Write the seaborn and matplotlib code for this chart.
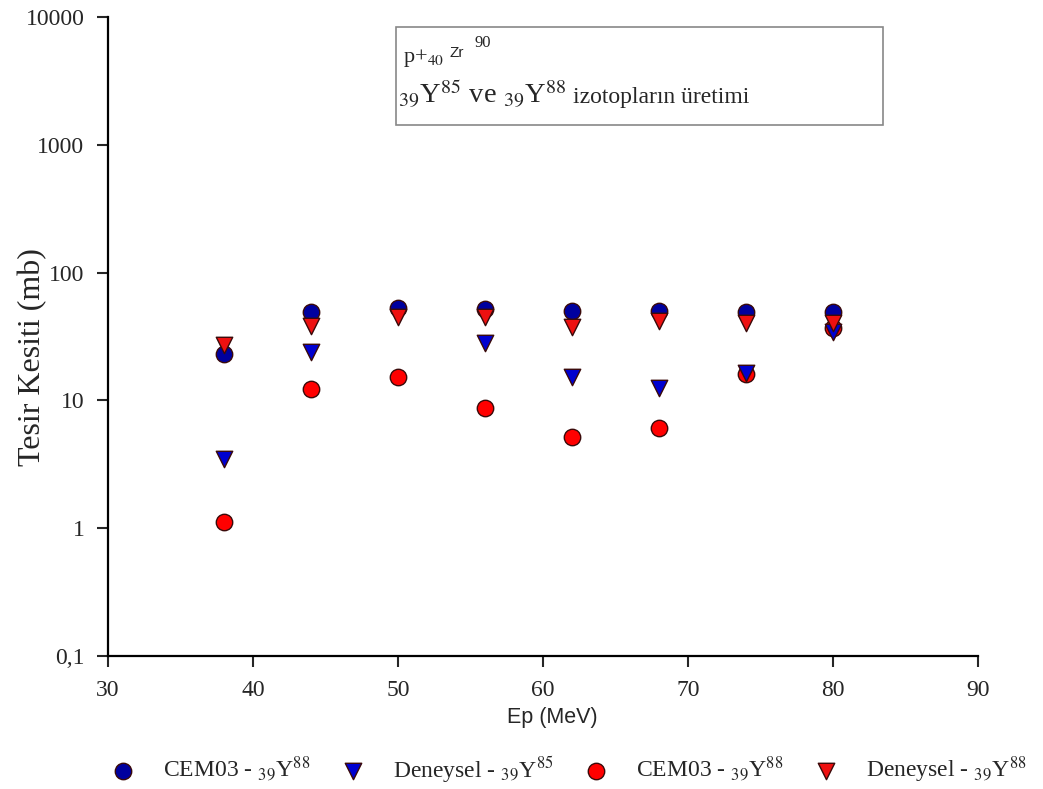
import matplotlib
matplotlib.use('Agg')
import matplotlib.pyplot as plt
import seaborn as sns
import pandas as pd
import numpy as np
from matplotlib.patches import Rectangle

# data
energy = [38, 44, 50, 56, 62, 68, 74, 80]
cem_y88_blue = [22.9, 48.7, 53.0, 51.4, 49.6, 49.6, 48.7, 48.7]
exp_y85 = [3.46, 24.1, np.nan, 27.9, 15.1, 12.6, 16.3, 34.0]
cem_y88_red = [1.11, 12.2, 15.1, 8.66, 5.14, 6.05, 16.0, 36.5]
exp_y88 = [26.9, 38.5, 44.5, 44.5, 37.2, 41.4, 40.5, 40.5]

yticks = [0.1, 1, 10, 100, 1000, 10000]
ytick_labels = ['0,1', '1', '10', '100', '1000', '10000']
xticks = [30, 40, 50, 60, 70, 80, 90]

sns.set_style('white')
plt.rcParams['font.family'] = ['Liberation Serif', 'DejaVu Serif']
plt.rcParams['mathtext.fontset'] = 'stix'

fig = plt.figure(figsize=(10.43, 7.89), dpi=100)
ax = fig.add_axes([0.1035, 0.1686, 0.834, 0.81])

series = [
    (cem_y88_blue, 'o', '#00009E', 'CEM03 - $_{39}$Y$^{88}$'),
    (cem_y88_red, 'o', '#FF0000', 'CEM03 - $_{39}$Y$^{88}$'),
    (exp_y85, 'v', '#0000D0', 'Deneysel - $_{39}$Y$^{85}$'),
    (exp_y88, 'v', '#EE1010', 'Deneysel - $_{39}$Y$^{88}$'),
]
for vals, mk, col, lab in series:
    df = pd.DataFrame({'Ep': energy, 'val': vals}).dropna()
    sns.scatterplot(data=df, x='Ep', y='val', marker=mk, color=col, s=140,
                    edgecolor='#3a0a0a', linewidth=1.0, label=lab, ax=ax, zorder=3)

ax.set_yscale('log')
ax.set_ylim(0.1, 10000)
ax.set_xlim(30, 90)
ax.set_yticks(yticks)
ax.set_yticklabels(ytick_labels)
ax.yaxis.set_minor_locator(matplotlib.ticker.NullLocator())
ax.set_xticks(xticks)
ax.tick_params(axis='both', direction='out', length=8, width=1.5, labelsize=17,
               left=True, bottom=True, pad=9)
for s in ['top', 'right']:
    ax.spines[s].set_visible(False)
for s in ['left', 'bottom']:
    ax.spines[s].set_linewidth(1.6)
    ax.spines[s].set_color('black')

ax.set_ylabel('Tesir Kesiti (mb)', fontsize=23)
ax.yaxis.set_label_coords(-0.07, 0.468)
ax.set_xlabel('Ep (MeV)', fontsize=15.5, family='Liberation Sans')
ax.xaxis.set_label_coords(0.511, -0.08)

# annotation box
ax.add_patch(Rectangle((0.331, 0.831), 0.56, 0.153, transform=ax.transAxes,
                       facecolor='white', edgecolor='#888888', linewidth=1.2, zorder=4))
ax.text(0.3395, 0.929, 'p+$_{40}$', transform=ax.transAxes, fontsize=16, va='baseline', zorder=5)
ax.text(0.393, 0.937, 'Zr', transform=ax.transAxes, fontsize=11, va='baseline',
        family='Liberation Sans', zorder=5)
ax.text(0.421, 0.953, '90', transform=ax.transAxes, fontsize=12, va='baseline', zorder=5)
ax.text(0.334, 0.865, '$_{39}$Y$^{85}$ ve $_{39}$Y$^{88}$', transform=ax.transAxes,
        fontsize=20.5, va='baseline', zorder=5)
ax.text(0.535, 0.865, 'izotopların üretimi', transform=ax.transAxes,
        fontsize=17, va='baseline', zorder=5)

handles, labels = ax.get_legend_handles_labels()
order = [0, 2, 1, 3]
ax.get_legend().remove()
fig.legend([handles[i] for i in order], [labels[i] for i in order], loc='center left',
           bbox_to_anchor=(0.0745, 0.025), ncol=4, frameon=False, fontsize=17,
           handletextpad=0.7, columnspacing=0.8, markerscale=1.0)

plt.savefig('out.png', dpi=100)
